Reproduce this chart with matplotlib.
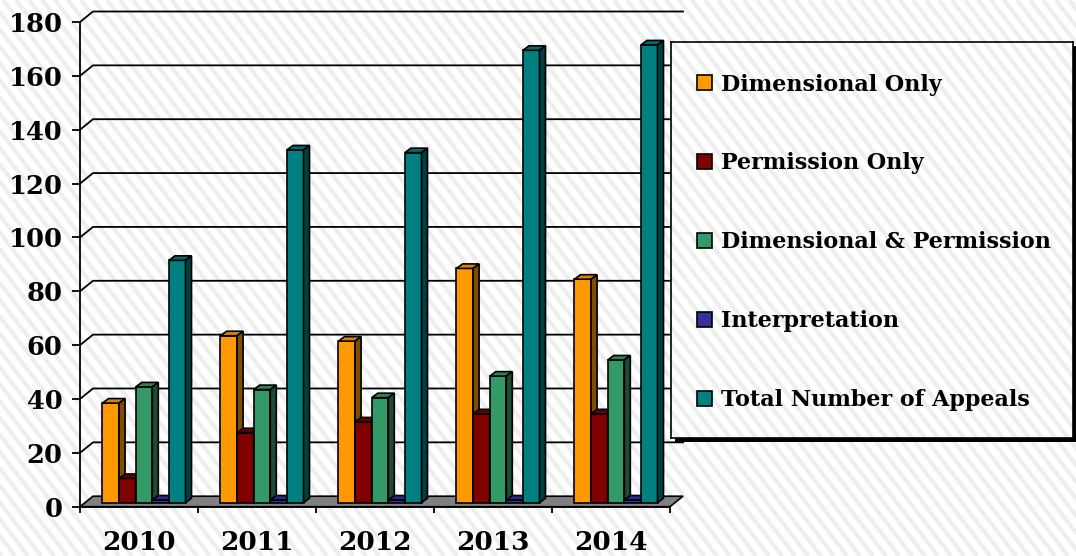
import numpy as np
import matplotlib.pyplot as plt
from matplotlib.patches import Polygon, Patch, Rectangle
from matplotlib.transforms import Affine2D

# Appeals by type and year
years = ['2010', '2011', '2012', '2013', '2014']
dimensional_only = [37, 62, 60, 87, 83]
permission_only = [9, 26, 30, 33, 33]
dimensional_permission = [43, 42, 39, 47, 53]
interpretation = [1, 1, 1, 1, 1]
total_appeals = [90, 131, 130, 168, 170]

series = [dimensional_only, permission_only, dimensional_permission,
          interpretation, total_appeals]
labels = ['Dimensional Only', 'Permission Only', 'Dimensional & Permission',
          'Interpretation', 'Total Number of Appeals']
y_ticks = list(range(0, 181, 20))

# front / top / side shades for the fake 3D columns
front = ['#FF9900', '#800000', '#339966', '#333399', '#008080']
top = ['#D98200', '#660000', '#2B8257', '#2A2A82', '#006B6B']
side = ['#7F4C00', '#400000', '#1A4D33', '#1A1A4D', '#004040']

plt.rcParams['font.family'] = 'DejaVu Serif'
plt.rcParams['font.weight'] = 'bold'

W, H = 1076, 556
fig = plt.figure(figsize=(W / 100, H / 100), dpi=100)
fig.patch.set_facecolor('white')
pix = Affine2D().scale(1 / W, -1 / H).translate(0, 1) + fig.transFigure


def stripes(axis):
    for c in np.arange(-H, W + 20, 13):
        axis.plot([c, c + 0.77 * H], [0, H], color='#eeeeee', lw=3,
                  transform=pix, solid_capstyle='butt', zorder=0)


# striped page background
bg = fig.add_axes([0, 0, 1, 1], zorder=-10)
bg.set_xlim(0, W)
bg.set_ylim(H, 0)
bg.axis('off')
stripes(bg)

# plot area (front plane)
x0, x1, y0, y1 = 80, 670, 506.7, 22
ax = fig.add_axes([x0 / W, (H - y0) / H, (x1 - x0) / W, (y0 - y1) / H])
ax.set_facecolor('none')
ax.set_xlim(0, 5)
ax.set_ylim(0, 180)

ux = (x1 - x0) / 5
uy = (y0 - y1) / 180
wall_dx, wall_dy = 13 / ux, 10.5 / uy
bar_dx, bar_dy = 5 / ux, 4 / uy
dep_dx, dep_dy = 6 / ux, 4.5 / uy

# floor
ax.add_patch(Polygon([(0, 0), (5, 0), (5 + wall_dx, wall_dy), (wall_dx, wall_dy)],
                     closed=True, facecolor='#808080', edgecolor='black',
                     lw=1.2, clip_on=False, zorder=1))

# gridlines on the back wall with the side-wall connectors
for v in y_ticks[1:]:
    ax.plot([0, wall_dx, 5 + wall_dx], [v, v + wall_dy, v + wall_dy],
            color='black', lw=1.3, clip_on=False, zorder=1)

w = 0.1407
group_left = 0.5 - 2.5 * w
for i, vals in enumerate(series):
    xs = np.arange(len(years)) + group_left + i * w + bar_dx
    ax.bar(xs, vals, width=w, bottom=bar_dy, align='edge', color=front[i],
           edgecolor='black', lw=1.2, zorder=3 + i, clip_on=False)
    for xl, v in zip(xs, vals):
        yt = bar_dy + v
        ax.add_patch(Polygon([(xl, yt), (xl + w, yt), (xl + w + dep_dx, yt + dep_dy),
                              (xl + dep_dx, yt + dep_dy)], closed=True,
                             facecolor=top[i], edgecolor='black', lw=1.2,
                             clip_on=False, zorder=3 + i))
        ax.add_patch(Polygon([(xl + w, bar_dy), (xl + w + dep_dx, bar_dy + dep_dy),
                              (xl + w + dep_dx, yt + dep_dy), (xl + w, yt)], closed=True,
                             facecolor=side[i], edgecolor='black', lw=1.2,
                             clip_on=False, zorder=3 + i))

for s in ['top', 'right']:
    ax.spines[s].set_visible(False)
for s in ['left', 'bottom']:
    ax.spines[s].set_linewidth(1.3)
    ax.spines[s].set_zorder(2)

ax.set_yticks(y_ticks)
ax.set_yticklabels([str(v) for v in y_ticks])
ax.tick_params(axis='y', length=6, width=1.3, pad=6.5, labelsize=18.5)
ax.set_xticks(range(6))
ax.set_xticklabels([])
ax.tick_params(axis='x', which='major', length=4.5, width=1.3)
ax.set_xticks(np.arange(5) + 0.5, minor=True)
ax.set_xticklabels(years, minor=True)
ax.tick_params(axis='x', which='minor', length=0, pad=16.5, labelsize=19)

# legend box with a hard black shadow
lx0, lx1, ly0, ly1 = 670.7, 1073.3, 42.3, 438.3
fig.add_artist(Rectangle(((lx0 + 4) / W, (H - ly1 - 4) / H), (lx1 - lx0) / W,
                         (ly1 - ly0) / H, transform=fig.transFigure,
                         facecolor='black', edgecolor='none', zorder=5))
lax = fig.add_axes([lx0 / W, (H - ly1) / H, (lx1 - lx0) / W, (ly1 - ly0) / H], zorder=6)
lax.set_facecolor('white')
lax.set_xticks([])
lax.set_yticks([])
for s in lax.spines.values():
    s.set_linewidth(1.2)
stripes(lax)

handles = [Patch(facecolor=c, edgecolor='black', lw=1.2) for c in front]
lax.legend(handles, labels, loc='upper left', bbox_to_anchor=(697 / W, (H - 73.5) / H),
           bbox_transform=fig.transFigure, frameon=False,
           prop={'weight': 'bold', 'size': 16}, handlelength=0.68,
           handleheight=0.68, handletextpad=0.4, labelspacing=2.56,
           borderpad=0, borderaxespad=0)

fig.savefig('out.png', dpi=100)
